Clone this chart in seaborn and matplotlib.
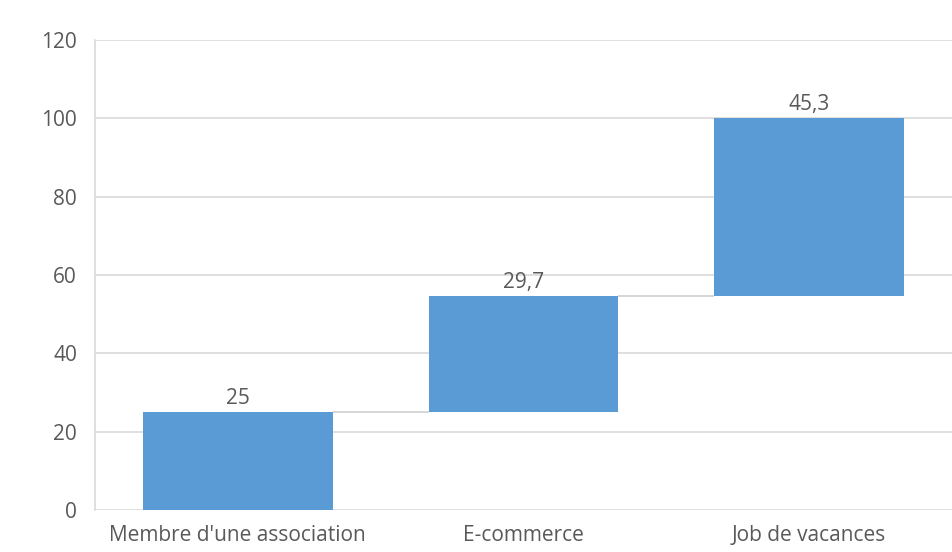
import matplotlib
matplotlib.use("Agg")
import matplotlib.pyplot as plt
import seaborn as sns
import numpy as np
import pandas as pd

categories = ["Membre d'une association", "E-commerce", "Job de vacances"]
values = [25, 29.7, 45.3]
labels = ["25", "29,7", "45,3"]
yticks = [0, 20, 40, 60, 80, 100, 120]

sns.set_theme(style="white")
plt.rcParams['font.family'] = ['Open Sans', 'DejaVu Sans']

vals = np.array(values)
bottoms = np.concatenate([[0], np.cumsum(vals)[:-1]])
tops = bottoms + vals
df = pd.DataFrame({"cat": categories, "val": vals, "bottom": bottoms})

fig = plt.figure(figsize=(9.52, 5.52), dpi=100)
ax = fig.add_axes([0.0998, 0.0761, 0.9002, 0.8514])

sns.barplot(data=df, x="cat", y="val", bottom=df["bottom"], color="#5b9bd5",
            saturation=1, width=0.665, ax=ax, zorder=3, edgecolor="none")

ax.set_ylim(0, 120)
ax.set_xlim(-0.5, 2.5)
ax.set_yticks(yticks)
ax.set_yticklabels([str(t) for t in yticks])
ax.yaxis.grid(True, color="#d9d9d9", linewidth=1.2, zorder=0)
ax.set_axisbelow(True)

# connectors
for i in range(len(vals) - 1):
    ax.hlines(tops[i], i + 0.665 / 2, i + 1 - 0.665 / 2, color="#d0d0d0", linewidth=1.2, zorder=2)

for i, (t, lab) in enumerate(zip(tops, labels)):
    ax.text(i, t + 0.8, lab, ha="center", va="bottom", fontsize=15, color="#595959")

for s in ["top", "right", "bottom"]:
    ax.spines[s].set_visible(False)
ax.spines["left"].set_color("#d9d9d9")
ax.spines["left"].set_linewidth(1.2)
ax.set_xlabel("")
ax.set_ylabel("")
ax.tick_params(axis="both", length=0, labelsize=15, colors="#595959")
ax.tick_params(axis="x", pad=11)
ax.tick_params(axis="y", pad=13)

fig.savefig("out.png", dpi=100, facecolor="white")
